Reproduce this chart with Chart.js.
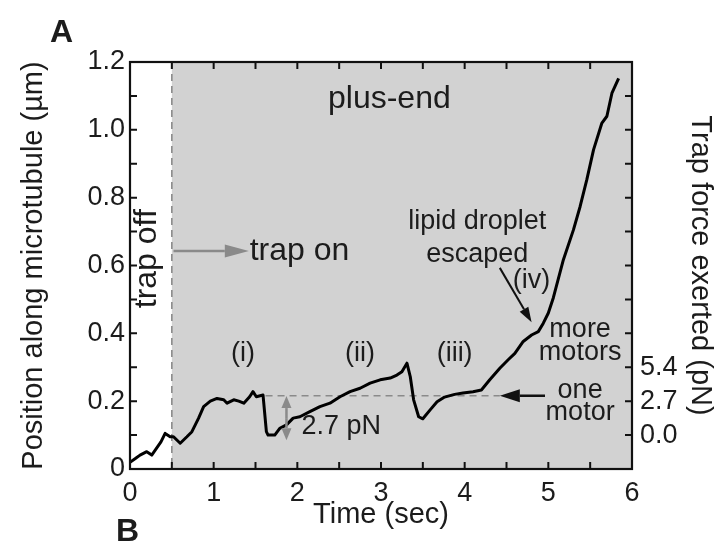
<!DOCTYPE html>
<html><head><meta charset="utf-8">
<script src="https://cdn.jsdelivr.net/npm/chart.js@4.4.1/dist/chart.umd.min.js"></script>
<style>html,body{margin:0;padding:0;background:#fff}#wrap{width:726px;height:544px;position:relative}</style>
</head><body><div id="wrap"><canvas id="c" width="726" height="544"></canvas></div>
<script>
// ---- data ----
const timeSec = [0.00,0.06,0.12,0.20,0.26,0.32,0.37,0.42,0.48,0.52,0.60,0.68,0.74,0.82,0.88,0.96,1.04,1.12,1.16,1.24,1.30,1.36,1.43,1.47,1.51,1.59,1.63,1.65,1.73,1.79,1.87,1.95,2.03,2.15,2.27,2.39,2.51,2.63,2.75,2.87,2.99,3.11,3.19,3.25,3.31,3.35,3.39,3.45,3.50,3.59,3.67,3.76,3.88,3.98,4.10,4.20,4.30,4.42,4.52,4.60,4.70,4.80,4.88,4.94,5.00,5.06,5.18,5.30,5.38,5.46,5.54,5.64,5.70,5.76,5.84];
const positionUm = [0.020,0.030,0.041,0.051,0.041,0.062,0.080,0.105,0.095,0.095,0.076,0.095,0.110,0.150,0.184,0.200,0.208,0.204,0.194,0.204,0.200,0.194,0.213,0.228,0.213,0.218,0.110,0.100,0.100,0.120,0.130,0.150,0.154,0.169,0.184,0.194,0.213,0.228,0.238,0.253,0.263,0.268,0.277,0.287,0.312,0.272,0.204,0.154,0.148,0.175,0.198,0.212,0.220,0.224,0.228,0.233,0.263,0.297,0.322,0.341,0.376,0.395,0.405,0.430,0.460,0.505,0.617,0.705,0.774,0.853,0.941,1.020,1.040,1.108,1.152];
const xTickValues = [0,1,2,3,4,5,6];
const xTickLabels = ['0','1','2','3','4','5','6'];
const xTickMarks = [0.5,1,1.5,2,2.5,3,3.5,4,4.5,5,5.5];
const yTickValues = [0,0.2,0.4,0.6,0.8,1.0,1.2];
const yTickLabels = ['0','0.2','0.4','0.6','0.8','1.0','1.2'];
const yTickMarks = [0.1,0.2,0.3,0.4,0.5,0.6,0.7,0.8,0.9,1.0,1.1];
const forceTickPositions = [0.1,0.2,0.3];
const forceTickLabels = ['0.0','2.7','5.4'];
const trapOnTime = 0.5;
const oneMotorLevel = 0.216;
const oneMotorDashFrom = 1.62;
const oneMotorDashTo = 4.42;

const FONT = '"Liberation Sans", Arial, Helvetica, sans-serif';
const INK = '#1c1c1c';

function arrow(ctx, x1, y1, x2, y2, color, lw, hl, hw) {
  const a = Math.atan2(y2 - y1, x2 - x1);
  const bx = x2 - hl * Math.cos(a), by = y2 - hl * Math.sin(a);
  ctx.save();
  ctx.strokeStyle = color; ctx.fillStyle = color; ctx.lineWidth = lw; ctx.setLineDash([]);
  ctx.beginPath(); ctx.moveTo(x1, y1); ctx.lineTo(bx, by); ctx.stroke();
  ctx.beginPath();
  ctx.moveTo(x2, y2);
  ctx.lineTo(bx + hw / 2 * Math.sin(a), by - hw / 2 * Math.cos(a));
  ctx.lineTo(bx - hw / 2 * Math.sin(a), by + hw / 2 * Math.cos(a));
  ctx.closePath(); ctx.fill();
  ctx.restore();
}

const decor = {
  id: 'decor',
  beforeDatasetsDraw(chart) {
    const {ctx, chartArea: a, scales: {x, y}} = chart;
    ctx.save();
    const xs = x.getPixelForValue(trapOnTime);
    ctx.fillStyle = '#d2d2d2';
    ctx.fillRect(xs, a.top, a.right - xs, a.bottom - a.top);
    ctx.strokeStyle = '#8a8a8a'; ctx.lineWidth = 1.6; ctx.setLineDash([7, 5]);
    ctx.beginPath(); ctx.moveTo(xs, a.top); ctx.lineTo(xs, a.bottom); ctx.stroke();
    const yl = y.getPixelForValue(oneMotorLevel);
    ctx.beginPath(); ctx.moveTo(x.getPixelForValue(oneMotorDashFrom), yl); ctx.lineTo(x.getPixelForValue(oneMotorDashTo), yl); ctx.stroke();
    ctx.restore();
  },
  afterDatasetsDraw(chart) {
    const {ctx, chartArea: a, scales: {x, y}} = chart;
    const P = (t, v) => [x.getPixelForValue(t), y.getPixelForValue(v)];
    ctx.save();
    // frame
    ctx.strokeStyle = '#111'; ctx.lineWidth = 2.2; ctx.setLineDash([]);
    ctx.strokeRect(a.left, a.top, a.right - a.left, a.bottom - a.top);
    // inward tick marks
    ctx.lineWidth = 2;
    const tl = 7;
    ctx.beginPath();
    xTickMarks.forEach(t => {
      const px = x.getPixelForValue(t);
      ctx.moveTo(px, a.bottom); ctx.lineTo(px, a.bottom - tl);
      ctx.moveTo(px, a.top); ctx.lineTo(px, a.top + tl);
    });
    yTickMarks.forEach(v => {
      const py = y.getPixelForValue(v);
      ctx.moveTo(a.left, py); ctx.lineTo(a.left + tl, py);
      ctx.moveTo(a.right, py); ctx.lineTo(a.right - tl, py);
    });
    ctx.stroke();

    // texts
    ctx.fillStyle = INK; ctx.textBaseline = 'middle'; ctx.textAlign = 'center';
    ctx.font = '32px ' + FONT;
    let p = P(3.1, 1.09); ctx.fillText('plus-end', p[0], p[1]);
    ctx.textAlign = 'left';
    p = P(1.43, 0.643); ctx.fillText('trap on', p[0], p[1]);
    ctx.save();
    p = P(0.21, 0.62); ctx.translate(p[0], p[1]); ctx.rotate(-Math.PI / 2);
    ctx.textAlign = 'center'; ctx.fillText('trap off', 0, 0);
    ctx.restore();
    ctx.font = '27px ' + FONT; ctx.textAlign = 'center';
    p = P(1.35, 0.34); ctx.fillText('(i)', p[0], p[1]);
    p = P(2.75, 0.34); ctx.fillText('(ii)', p[0], p[1]);
    p = P(3.88, 0.34); ctx.fillText('(iii)', p[0], p[1]);
    p = P(4.80, 0.557); ctx.fillText('(iv)', p[0], p[1]);
    p = P(4.15, 0.73); ctx.fillText('lipid droplet', p[0], p[1]);
    p = P(4.15, 0.632); ctx.fillText('escaped', p[0], p[1]);
    p = P(5.38, 0.41); ctx.fillText('more', p[0], p[1]);
    p = P(5.38, 0.343); ctx.fillText('motors', p[0], p[1]);
    p = P(5.38, 0.232); ctx.fillText('one', p[0], p[1]);
    p = P(5.38, 0.167); ctx.fillText('motor', p[0], p[1]);
    ctx.textAlign = 'left';
    p = P(2.05, 0.125); ctx.fillText('2.7 pN', p[0], p[1]);

    // arrows
    let s = P(0.52, 0.643), e = P(1.42, 0.643);
    arrow(ctx, s[0], s[1], e[0], e[1], '#8a8a8a', 2.5, 24, 13);
    s = P(4.96, oneMotorLevel); e = P(4.42, oneMotorLevel);
    arrow(ctx, s[0], s[1], e[0], e[1], '#111', 2.5, 20, 13);
    s = P(4.42, 0.593); e = P(4.80, 0.433);
    arrow(ctx, s[0], s[1], e[0], e[1], '#111', 2, 15, 10);
    const mid = P(1.87, 0.15);
    s = P(1.87, 0.215); e = P(1.87, 0.085);
    arrow(ctx, mid[0], mid[1], s[0], s[1], '#8a8a8a', 2.5, 12, 10);
    arrow(ctx, mid[0], mid[1], e[0], e[1], '#8a8a8a', 2.5, 12, 10);

    // panel letters
    ctx.font = 'bold 32px ' + FONT; ctx.textAlign = 'left'; ctx.textBaseline = 'alphabetic';
    ctx.fillText('A', 50, 42);
    ctx.fillText('B', 116, 541);
    ctx.restore();
  }
};

new Chart(document.getElementById('c'), {
  type: 'line',
  data: {
    datasets: [{
      data: timeSec.map((t, i) => ({x: t, y: positionUm[i]})),
      borderColor: '#000', borderWidth: 3, pointRadius: 0, tension: 0, fill: false,
      borderJoinStyle: 'round'
    }]
  },
  options: {
    responsive: false, animation: false, devicePixelRatio: 1,
    layout: {padding: {top: 62, left: 0, right: 0, bottom: 0}},
    plugins: {legend: {display: false}, tooltip: {enabled: false}},
    scales: {
      x: {
        type: 'linear', position: 'bottom', min: 0, max: 6,
        grid: {display: false, drawTicks: false}, border: {display: false},
        afterBuildTicks: s => { s.ticks = xTickValues.map(v => ({value: v})); },
        ticks: {callback: (v, i) => xTickLabels[i], color: INK, font: {family: FONT, size: 27}, padding: 8, maxRotation: 0, autoSkip: false},
        title: {display: true, text: 'Time (sec)', color: INK, font: {family: FONT, size: 29}, padding: {top: 0, bottom: 12}},
        afterFit: s => { s.height = 75; }
      },
      y: {
        type: 'linear', position: 'left', min: 0, max: 1.2,
        grid: {display: false, drawTicks: false}, border: {display: false},
        afterBuildTicks: s => { s.ticks = yTickValues.map(v => ({value: v})); },
        ticks: {callback: (v, i) => yTickLabels[i], color: INK, font: {family: FONT, size: 27}, padding: 5, autoSkip: false},
        title: {display: true, text: 'Position along microtubule (µm)', color: INK, font: {family: FONT, size: 29}, padding: {top: 17, bottom: 0}},
        afterFit: s => { s.width = 130; }
      },
      y2: {
        type: 'linear', position: 'right', min: 0, max: 1.2,
        grid: {display: false, drawTicks: false}, border: {display: false},
        afterBuildTicks: s => { s.ticks = forceTickPositions.map(v => ({value: v})); },
        ticks: {callback: (v, i) => forceTickLabels[i], color: INK, font: {family: FONT, size: 27}, padding: 8, autoSkip: false},
        title: {display: true, text: 'Trap force exerted (pN)', color: INK, font: {family: FONT, size: 29}, padding: {top: 9, bottom: 0}},
        afterFit: s => { s.width = 94; }
      }
    }
  },
  plugins: [decor]
});
</script>
</body></html>
